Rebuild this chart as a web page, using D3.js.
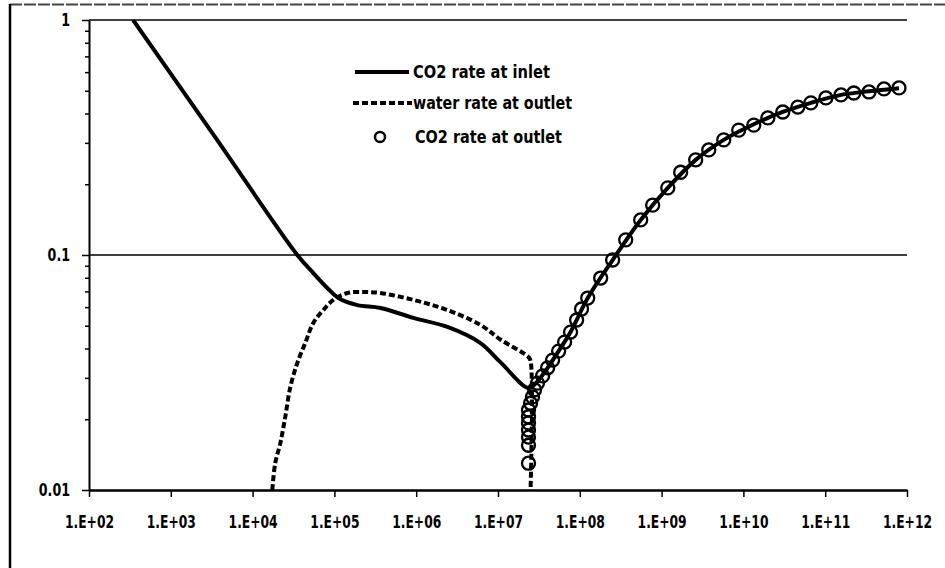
<!DOCTYPE html>
<html>
<head>
<meta charset="utf-8">
<script src="https://cdn.jsdelivr.net/npm/d3@7"></script>
<style>
  body { margin: 0; background: #fff; }
  text { font-family: "Liberation Sans Narrow", "DejaVu Sans Condensed", "Arial Narrow", sans-serif; font-weight: bold; }
</style>
</head>
<body>
<div id="chart"></div>
<script>
// time vs rate
const co2Inlet = [
  [3.46e2, 1.0], [3.47e3, 0.318], [3.52e4, 0.100], [5.52e4, 0.0838], [8.18e4, 0.0724],
  [1.12e5, 0.0656], [1.91e5, 0.0612], [3.65e5, 0.0595], [9.25e5, 0.0540], [2.41e6, 0.0494],
  [6.11e6, 0.0422], [1.07e7, 0.0350], [2.36e7, 0.0272], [3.04e7, 0.0290], [4.04e7, 0.0331],
  [5.51e7, 0.0390], [7.71e7, 0.0470], [1.25e8, 0.0656], [2.52e8, 0.0952], [5.55e8, 0.141],
  [1.19e9, 0.193], [2.61e9, 0.254], [5.75e9, 0.309], [1.34e10, 0.360], [3.03e10, 0.406],
  [6.68e10, 0.444], [1.56e11, 0.480], [3.43e11, 0.497], [7.98e11, 0.512]
];
const waterOutlet = [
  [1.74e4, 0.0100], [1.89e4, 0.0130], [2.18e4, 0.0158], [2.51e4, 0.0205], [2.89e4, 0.0274],
  [3.52e4, 0.0347], [4.41e4, 0.0423], [5.52e4, 0.0514], [7.31e4, 0.0583], [9.70e4, 0.0644],
  [1.44e5, 0.0689], [2.26e5, 0.0696], [3.65e5, 0.0689], [9.25e5, 0.0644], [2.41e6, 0.0583],
  [6.11e6, 0.0504], [1.07e7, 0.0437], [2.36e7, 0.0368], [2.50e7, 0.0355], [2.50e7, 0.0100]
];
const co2Outlet = [
  [2.36e7, 0.0130], [2.36e7, 0.0155], [2.36e7, 0.0168], [2.36e7, 0.0180], [2.36e7, 0.0193],
  [2.36e7, 0.0205], [2.36e7, 0.0219], [2.50e7, 0.0234], [2.64e7, 0.0249], [2.80e7, 0.0267],
  [3.04e7, 0.0285], [3.51e7, 0.0306], [4.04e7, 0.0331], [4.65e7, 0.0357], [5.51e7, 0.0390],
  [6.52e7, 0.0426], [7.71e7, 0.0470], [9.14e7, 0.0529], [1.05e8, 0.0589], [1.25e8, 0.0656],
  [1.80e8, 0.0798], [2.52e8, 0.0952], [3.64e8, 0.116], [5.55e8, 0.141], [7.78e8, 0.163],
  [1.19e9, 0.193], [1.71e9, 0.225], [2.61e9, 0.254], [3.77e9, 0.280], [5.75e9, 0.309],
  [8.77e9, 0.340], [1.34e10, 0.357], [1.99e10, 0.383], [3.03e10, 0.406], [4.63e10, 0.426],
  [6.68e10, 0.444], [1.02e11, 0.466], [1.56e11, 0.480], [2.24e11, 0.489], [3.43e11, 0.494],
  [5.23e11, 0.509], [7.98e11, 0.514]
];
const xTicks = [1e2, 1e3, 1e4, 1e5, 1e6, 1e7, 1e8, 1e9, 1e10, 1e11, 1e12];
const yMajor = [0.01, 0.1, 1];
const yLabels = {0.01: "0.01", 0.1: "0.1", 1: "1"};
const legendNames = ["CO2 rate at inlet", "water rate at outlet", "CO2 rate at outlet"];

const width = 945, height = 568;
const plotL = 89, plotR = 907, plotT = 20, plotB = 490;

const svg = d3.select('#chart').append('svg')
  .attr('width', width)
  .attr('height', height);

// outer frame (only left and top edges show)
svg.append('line').attr('x1', 10).attr('x2', 945).attr('y1', 4.5).attr('y2', 4.5)
  .attr('stroke', '#444').attr('stroke-width', 2).attr('stroke-dasharray', '12,2');
svg.append('line').attr('x1', 10).attr('x2', 10).attr('y1', 4).attr('y2', 568)
  .attr('stroke', '#000').attr('stroke-width', 2.5);

const x = d3.scaleLog().domain([1e2, 1e12]).range([plotL, plotR]);
const y = d3.scaleLog().domain([0.01, 1]).range([plotB, plotT]);

// squeeze the wide fallback font so it reads like the narrow bold original
function narrow(sel, k) {
  sel.each(function() {
    const w = this.getComputedTextLength();
    if (w > 0) d3.select(this).attr('textLength', w * k).attr('lengthAdjust', 'spacingAndGlyphs');
  });
}

// gridlines
svg.selectAll('.grid').data([0.1, 1]).enter().append('line')
  .attr('x1', plotL).attr('x2', plotR)
  .attr('y1', d => y(d)).attr('y2', d => y(d))
  .attr('stroke', '#000').attr('stroke-width', 1.6);

// y axis with minor log ticks
const yTickVals = [];
[0.01, 0.1].forEach(d => { for (let k = 1; k < 10; k++) yTickVals.push(d * k); });
yTickVals.push(1);
const isMajor = d => yMajor.some(v => Math.abs(v - d) / v < 1e-6);
const yAxis = svg.append('g').attr('transform', `translate(${plotL},0)`)
  .call(d3.axisLeft(y).tickValues(yTickVals).tickSizeOuter(0)
    .tickFormat(d => {
      const m = yMajor.find(v => Math.abs(v - d) / v < 1e-6);
      return m !== undefined ? yLabels[m] : '';
    }));
yAxis.selectAll('.tick line')
  .attr('x2', d => isMajor(d) ? -7 : -4)
  .attr('stroke-width', 1.5);
yAxis.select('.domain').attr('stroke-width', 2);
yAxis.selectAll('text').attr('x', -19).style('font-size', '18px').attr('fill', '#000')
  .call(narrow, 0.78);

// x axis
const fmtX = d => '1.E+' + String(Math.round(Math.log10(d))).padStart(2, '0');
const xAxis = svg.append('g').attr('transform', `translate(0,${plotB})`)
  .call(d3.axisBottom(x).tickValues(xTicks).tickFormat(fmtX).tickSize(7).tickSizeOuter(0));
xAxis.select('.domain').attr('stroke-width', 2.5);
xAxis.selectAll('.tick line').attr('stroke-width', 1.5);
xAxis.selectAll('text').attr('y', 25).style('font-size', '18px').attr('fill', '#000')
  .call(narrow, 0.76);

svg.append('clipPath').attr('id', 'plot').append('rect')
  .attr('x', plotL).attr('y', plotT).attr('width', plotR - plotL).attr('height', plotB - plotT);

const smooth = d3.line().x(d => x(d[0])).y(d => y(d[1])).curve(d3.curveCatmullRom.alpha(0.5));

svg.append('path').datum(waterOutlet)
  .attr('d', smooth)
  .attr('clip-path', 'url(#plot)')
  .attr('fill', 'none').attr('stroke', '#000')
  .attr('stroke-width', 4).attr('stroke-dasharray', '6,3');

svg.append('path').datum(co2Inlet)
  .attr('d', smooth)
  .attr('clip-path', 'url(#plot)')
  .attr('fill', 'none').attr('stroke', '#000')
  .attr('stroke-width', 4).attr('stroke-linejoin', 'round');

svg.selectAll('.pt').data(co2Outlet).enter().append('circle')
  .attr('cx', d => x(d[0])).attr('cy', d => y(d[1]))
  .attr('r', 6.5)
  .attr('fill', 'none').attr('stroke', '#000').attr('stroke-width', 2.3);

// legend
const lg = svg.append('g');
const rows = [72, 103, 137];
const textX = [413, 413, 415];
const textW = [137, 159, 147];
lg.append('line').attr('x1', 355).attr('x2', 409).attr('y1', rows[0]).attr('y2', rows[0])
  .attr('stroke', '#000').attr('stroke-width', 4);
lg.append('line').attr('x1', 353).attr('x2', 412).attr('y1', rows[1]).attr('y2', rows[1])
  .attr('stroke', '#000').attr('stroke-width', 4).attr('stroke-dasharray', '6,3');
lg.append('circle').attr('cx', 380).attr('cy', rows[2]).attr('r', 5)
  .attr('fill', 'none').attr('stroke', '#000').attr('stroke-width', 2.5);
lg.selectAll('text').data(legendNames).enter().append('text')
  .attr('x', (d, i) => textX[i]).attr('y', (d, i) => rows[i])
  .attr('dy', '0.35em')
  .attr('textLength', (d, i) => textW[i])
  .attr('lengthAdjust', 'spacingAndGlyphs')
  .style('font-size', '17px')
  .text(d => d);
</script>
</body>
</html>
